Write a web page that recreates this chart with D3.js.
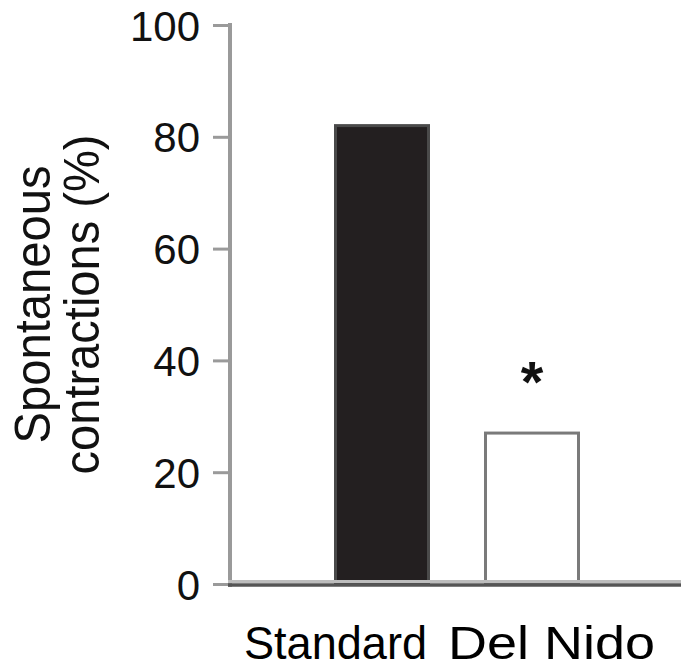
<!DOCTYPE html>
<html>
<head>
<meta charset="utf-8">
<script src="https://cdn.jsdelivr.net/npm/d3@7"></script>
<style>
  html, body { margin: 0; padding: 0; background: #fff; }
  svg { display: block; }
  text { font-family: "Liberation Sans", Arial, Helvetica, sans-serif; }
</style>
</head>
<body>
<svg id="chart" width="681" height="669"></svg>
<script>
// ---- data ----
const categories = ["Standard", "Del Nido"];
const values = [82, 27];
const significance = ["", "*"];
const yTicks = [0, 20, 40, 60, 80, 100];
const yTitleLines = ["Spontaneous", "contractions (%)"];

// ---- layout ----
const W = 681, H = 669;
const axisX = 230, yTop = 25, yBottom = 584;

const svg = d3.select("#chart");

const y = d3.scaleLinear().domain([0, 100]).range([yBottom, yTop]);
const x = d3.scaleBand().domain(categories).range([232, 682])
  .paddingInner(0.36).paddingOuter(0.68);

const barFill = ["#231f20", "#ffffff"];
const barStroke = ["#4a4a4a", "#7a7a7a"];

// bars
svg.selectAll("rect.bar").data(categories).join("rect")
  .attr("class", "bar")
  .attr("x", d => x(d) + 1.5)
  .attr("width", x.bandwidth() - 3)
  .attr("y", (d, i) => y(values[i]))
  .attr("height", (d, i) => yBottom - y(values[i]))
  .attr("fill", (d, i) => barFill[i])
  .attr("stroke", (d, i) => barStroke[i])
  .attr("stroke-width", 3);

// y axis
const yAxis = d3.axisLeft(y).tickValues(yTicks).tickSize(17).tickPadding(13).tickSizeOuter(0);
const gy = svg.append("g").attr("transform", `translate(${axisX},0)`).call(yAxis);
gy.select(".domain").attr("stroke", "#9a9a9a").attr("stroke-width", 4)
  .attr("d", `M0,${yTop - 2}V${yBottom + 3}`);
gy.selectAll(".tick line").attr("stroke", "#9a9a9a").attr("stroke-width", 3);
gy.selectAll(".tick text")
  .attr("font-size", 42)
  .attr("fill", "#111")
  .attr("dy", "0.36em")
  .style("font-family", "'Liberation Sans', Arial, sans-serif");

// x axis (two-tone line)
svg.append("line").attr("x1", axisX - 2).attr("x2", W).attr("y1", yBottom - 2.5).attr("y2", yBottom - 2.5)
  .attr("stroke", "#bdbdbd").attr("stroke-width", 3);
svg.append("line").attr("x1", axisX - 2).attr("x2", W).attr("y1", yBottom + 1).attr("y2", yBottom + 1)
  .attr("stroke", "#555").attr("stroke-width", 3.5);

// significance markers
svg.selectAll("text.sig").data(categories).join("text")
  .attr("class", "sig")
  .attr("x", d => x(d) + x.bandwidth() / 2)
  .attr("y", (d, i) => y(values[i]) - 31)
  .attr("text-anchor", "middle")
  .attr("font-size", 58)
  .attr("font-weight", "bold")
  .attr("fill", "#111")
  .text((d, i) => significance[i]);

// x labels
svg.append("text")
  .attr("x", x(categories[0]) + x.bandwidth() - 3)
  .attr("y", 659)
  .attr("text-anchor", "end")
  .attr("font-size", 46)
  .attr("fill", "#000")
  .attr("textLength", 183).attr("lengthAdjust", "spacingAndGlyphs")
  .text(categories[0]);
svg.append("text")
  .attr("x", x(categories[1]) - 36)
  .attr("y", 659)
  .attr("text-anchor", "start")
  .attr("font-size", 46)
  .attr("fill", "#000")
  .attr("textLength", 207).attr("lengthAdjust", "spacingAndGlyphs")
  .text(categories[1]);

// y title
const titleX = [50, 99];
const titleLen = [278, 340];
yTitleLines.forEach((t, i) => {
  svg.append("text")
    .attr("transform", `translate(${titleX[i]},${(yTop + yBottom) / 2}) rotate(-90)`)
    .attr("text-anchor", "middle")
    .attr("font-size", 50)
    .attr("fill", "#111")
    .attr("textLength", titleLen[i]).attr("lengthAdjust", "spacingAndGlyphs")
    .text(t);
});
</script>
</body>
</html>
